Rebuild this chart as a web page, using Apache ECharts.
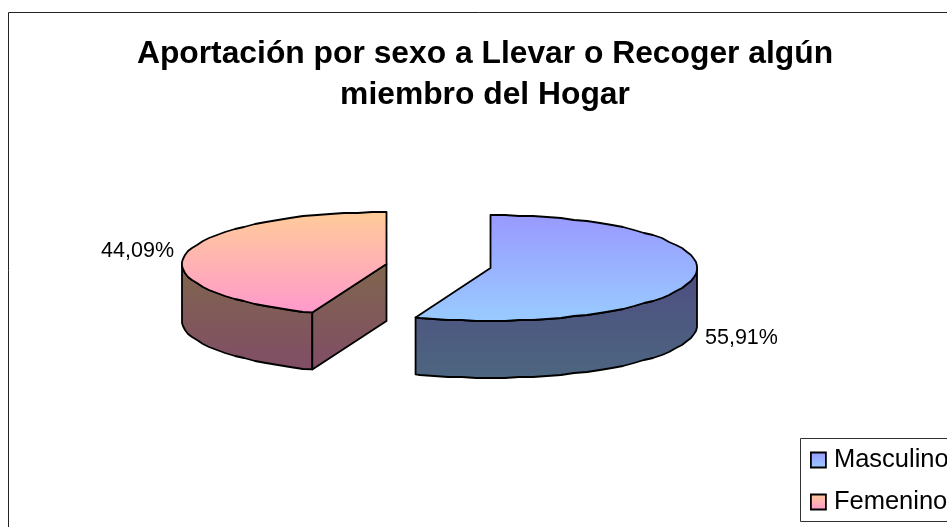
<!DOCTYPE html>
<html><head><meta charset="utf-8">
<style>html,body{margin:0;padding:0;background:#fff;overflow:hidden}#c{width:947px;height:527px}</style>
<script src="https://cdn.jsdelivr.net/npm/echarts@6/dist/echarts.min.js"></script>
</head><body><div id="c"></div>
<script>
const titleLines = ['Aportación por sexo a Llevar o Recoger algún', 'miembro del Hogar'];
const categories = ['Masculino', 'Femenino'];
const shares = [55.91, 44.09];
const labels = ['55,91%', '44,09%'];

const FONT = '"Liberation Sans", Arial, sans-serif';
const topColors = [['#9999ff', '#99ccff'], ['#ffcc99', '#ff99cc']];
const wallColors = [['#4d4d80', '#4d6680'], ['#80664d', '#804d66']];
const placement = [
  {cx: 490.5, cy: 268, rx: 206.5, ry: 53, depth: 57, labelX: 705, labelY: 338, align: 'left'},
  {cx: 386.5, cy: 264, rx: 204.5, ry: 52, depth: 57, labelX: 174, labelY: 251, align: 'right'}
];
const total = shares.reduce((a, b) => a + b, 0);

function vgrad(c) {
  return new echarts.graphic.LinearGradient(0, 0, 0, 1, [
    {offset: 0, color: c[0]}, {offset: 1, color: c[1]}
  ]);
}
function pt(p, deg, dy) {
  const r = deg * Math.PI / 180;
  return [p.cx + p.rx * Math.sin(r), p.cy - p.ry * Math.cos(r) + (dy || 0)];
}
// Outline sampled at fixed angles and snapped to whole pixels, so adjoining
// top and wall edges coincide and keep the slightly rough look of the original.
function arc(p, a, b, dy) {
  const STEP = 4, lo = Math.min(a, b), hi = Math.max(a, b);
  const out = [pt(p, lo, dy)];
  for (let d = Math.floor(lo / STEP + 1) * STEP; d < hi; d += STEP) {
    const q = pt(p, d, dy);
    out.push([Math.round(q[0]), Math.round(q[1])]);
  }
  out.push(pt(p, hi, dy));
  return a <= b ? out : out.reverse();
}
function renderSlice(idx, params, api) {
  const si = params.seriesIndex;
  const start = shares.slice(0, si).reduce((a, b) => a + b, 0) / total * 360;
  const end = start + api.value(0) / total * 360;
  const p = placement[si];
  const children = [];
  const line = {stroke: '#000', lineWidth: 1.8, lineJoin: 'round'};
  const walls = vgrad(wallColors[si]);
  const a0 = Math.max(start, 90), a1 = Math.min(end, 270);
  if (a1 > a0) {
    const upper = arc(p, a0, a1, 0);
    const lower = arc(p, a1, a0, p.depth);
    children.push({type: 'polygon', shape: {points: upper.concat(lower)},
      style: Object.assign({fill: walls}, line)});
  }
  const centre = [p.cx, p.cy];
  const face = deg => {
    const e = pt(p, deg, 0);
    children.push({type: 'polygon',
      shape: {points: [centre, e, [e[0], e[1] + p.depth], [p.cx, p.cy + p.depth]]},
      style: Object.assign({fill: walls}, line)});
  };
  if (start > 180 && start < 360) face(start);
  if (end > 0 && end < 180) face(end);
  children.push({type: 'polygon', shape: {points: [centre].concat(arc(p, start, end, 0))},
    style: Object.assign({fill: vgrad(topColors[si])}, line)});
  children.push({type: 'text', style: {
    x: p.labelX, y: p.labelY, text: labels[si], fill: '#000',
    font: '21.5px ' + FONT, align: p.align, verticalAlign: 'middle'}});
  return {type: 'group', children};
}

const chart = echarts.init(document.getElementById('c'), null, {renderer: 'canvas'});
chart.setOption({
  animation: false,
  backgroundColor: '#fff',
  title: {
    text: titleLines.join('\n'), left: 480, top: 29, textAlign: 'center',
    textStyle: {fontFamily: FONT, fontSize: 31.8, fontWeight: 'bold', color: '#000', lineHeight: 41}
  },
  legend: {
    orient: 'vertical', left: 810, top: 447, itemWidth: 15, itemHeight: 15, itemGap: 16,
    selectedMode: false, padding: 0,
    textStyle: {fontFamily: FONT, fontSize: 25.5, color: '#000', padding: [0, 0, 10, 3]},
    data: categories.map((n, i) => ({
      name: n, icon: 'rect',
      itemStyle: {color: vgrad(topColors[i]), borderColor: '#000', borderWidth: 1.8}
    }))
  },
  graphic: [
    {type: 'rect', silent: true, z: -1, shape: {x: 8.5, y: 12.5, width: 1000, height: 600},
      style: {fill: '#fff', stroke: '#222', lineWidth: 1}},
    {type: 'rect', silent: true, z: -1, shape: {x: 800.5, y: 438.5, width: 300, height: 83},
      style: {fill: '#fff', stroke: '#333', lineWidth: 1}}
  ],
  series: categories.map((n, i) => ({
    type: 'custom', name: n, coordinateSystem: 'none', silent: true,
    data: [[shares[i]]],
    renderItem: (params, api) => renderSlice(i, params, api)
  }))
});
</script></body></html>
